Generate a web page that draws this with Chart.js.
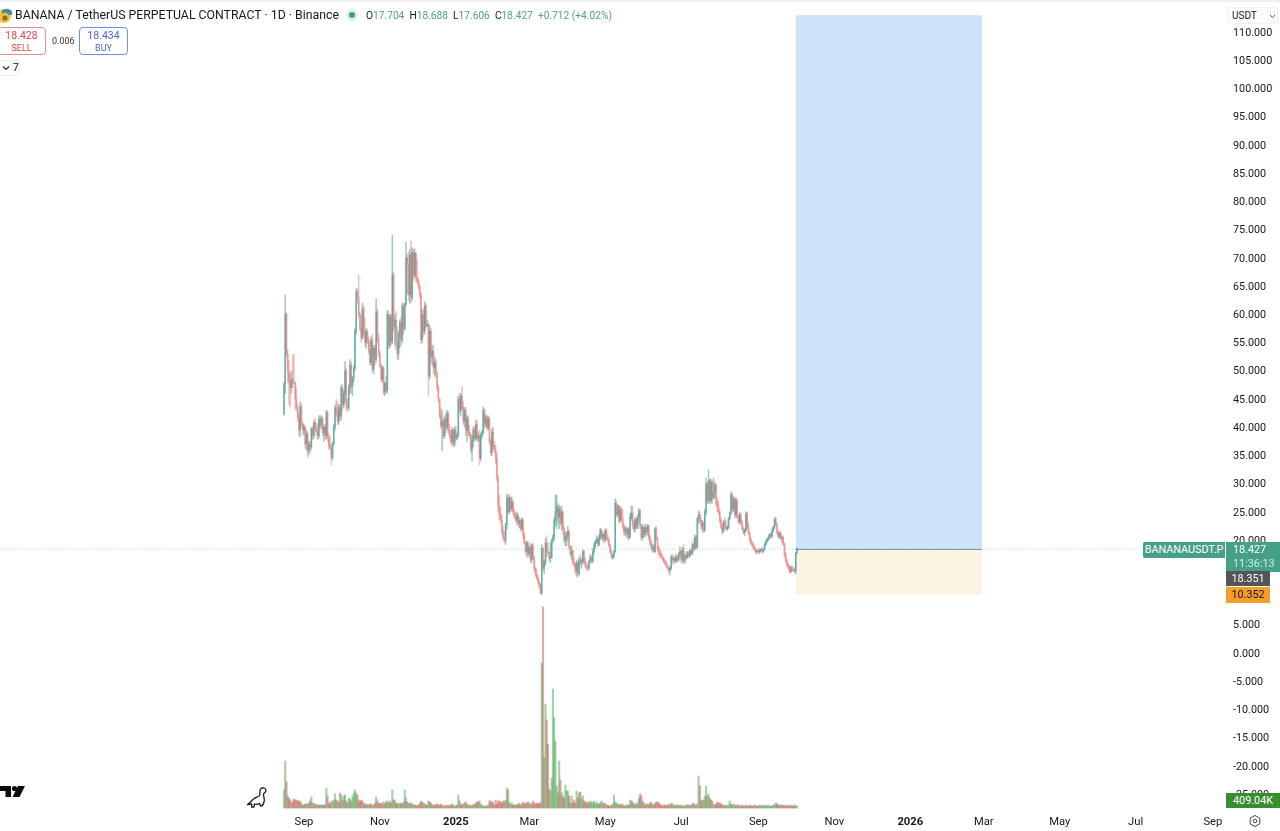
<!DOCTYPE html>
<html><head><meta charset="utf-8"><title>BANANAUSDT.P</title>
<script src="https://cdn.jsdelivr.net/npm/chart.js@4"></script>
<style>
html,body{margin:0;padding:0;background:#fff;width:1280px;height:831px;overflow:hidden;font-family:Roboto,Arial,sans-serif;color:#131722}
#c{position:absolute;left:0;top:0}
.o{position:absolute;white-space:nowrap;box-sizing:border-box}
.tag{text-align:center;font-size:10.8px;line-height:16px}
.ohlc b{font-weight:400;color:#131722}
</style></head><body>
<canvas id="c" width="1280" height="831"></canvas>
<div class="o" style="left:0;top:0;width:1280px;height:2px;background:#eeeff1"></div>
<svg class="o" style="left:0;top:7px" width="14" height="16" viewBox="0 0 14 16"><circle cx="4" cy="9" r="7" fill="#f3c33f"/><path d="M2 3.5 A7 7 0 0 1 12 4 L12 8 L8.5 8 A4 4 0 0 0 2 7Z" fill="#3f8fb0"/><circle cx="5" cy="11" r="2.6" fill="#9a6a20"/></svg>
<div class="o" style="left:15px;top:7px;font-size:12.3px;line-height:17px">BANANA / TetherUS PERPETUAL CONTRACT · 1D · Binance</div>
<div class="o" style="left:346px;top:9px;width:12px;height:12px;border-radius:50%;background:#dff0ec"></div>
<div class="o" style="left:349px;top:12px;width:6px;height:6px;border-radius:50%;background:#3f9c84"></div>
<div class="o ohlc" style="left:366px;top:8px;font-size:10.2px;line-height:15px;color:#4f9f8c"><b>O</b>17.704 <b>&nbsp;H</b>18.688 <b>&nbsp;L</b>17.606 <b>&nbsp;C</b>18.427 &nbsp;+0.712 (+4.02%)</div>
<div class="o" style="left:-3px;top:27px;width:49px;height:28px;border:1px solid #e8898b;border-radius:4px;text-align:center;color:#d9484c;font-size:10.5px;line-height:12px;padding-top:2px;background:#fff">18.428<br><span style="font-size:9px">SELL</span></div>
<div class="o" style="left:52px;top:35px;font-size:9px;line-height:12px;color:#333">0.006</div>
<div class="o" style="left:79px;top:27px;width:49px;height:28px;border:1px solid #6f8cea;border-radius:4px;text-align:center;color:#4a67d8;font-size:10.5px;line-height:12px;padding-top:2px;background:#fff">18.434<br><span style="font-size:9px">BUY</span></div>
<div class="o" style="left:-3px;top:60px;width:23px;height:16px;border:1px solid #eceef1;border-radius:3px;font-size:11px;line-height:14px;padding-left:4px;background:#fff"><svg width="8" height="6" viewBox="0 0 8 6"><path d="M1 1.5 L4 4.5 L7 1.5" fill="none" stroke="#222" stroke-width="1.1"/></svg> 7</div>
<div class="o" style="left:1228px;top:7px;width:50px;height:17px;border:1px solid #f1f2f4;border-radius:2px;font-size:10px;line-height:15px;padding-left:3px;background:#fff">USDT<svg style="position:absolute;right:1px;top:6px" width="7" height="5" viewBox="0 0 7 5"><path d="M1 1 L3.5 3.5 L6 1" fill="none" stroke="#555" stroke-width="1"/></svg></div>
<div class="o tag" style="left:1143px;top:542px;width:82px;height:16px;background:#45a088;color:#fff;border-radius:2px 0 0 2px;font-size:10.8px">BANANAUSDT.P</div>
<div class="o tag" style="left:1226px;top:542px;width:54px;height:30px;background:#45a088;color:#fff;text-align:left;padding-left:7px;line-height:14px;padding-top:1px">18.427<br><span style="color:#cfe9e2">11:36:13</span></div>
<div class="o tag" style="left:1226px;top:571px;width:44px;height:15px;background:#555558;color:#fff;line-height:15px">18.351</div>
<div class="o tag" style="left:1226px;top:587px;width:44px;height:16px;background:#f59d2a;color:#131722;line-height:16px">10.352</div>
<div class="o tag" style="left:1226px;top:793px;width:54px;height:15px;background:#388e2e;color:#fff;line-height:15px">409.04K</div>
<svg class="o" style="left:1248px;top:814px" width="14" height="14" viewBox="0 0 14 14"><path d="M7 1.5 L11.8 4.2 V9.8 L7 12.5 L2.2 9.8 V4.2Z" fill="none" stroke="#444" stroke-width="1"/><circle cx="7" cy="7" r="1.8" fill="none" stroke="#444" stroke-width="1"/></svg>
<svg class="o" style="left:0;top:785px" width="26" height="13" viewBox="0 0 26 13"><path d="M0 1 H11 V12 H5.5 V6 H0Z" fill="#0c0c0c"/><circle cx="14.5" cy="3.5" r="2.6" fill="#0c0c0c"/><path d="M18 1 H25 L19.5 12 H12.5Z" fill="#0c0c0c"/></svg>
<svg class="o" style="left:246px;top:786px" width="22" height="23" viewBox="0 0 22 23"><path d="M1.5 18.5 C4 17 6 14 8 12.5 C10 11 12.5 11 13.5 9.5 C14.5 7.5 13 4 15 2.5 C17 1 20 2 20 4.5 C20 7 17.5 6.5 17.5 8.5 C17.5 11 19 13 18 16 C17.5 18.5 16 20 14.5 20 L13.5 17.5 C12 18.5 10 18.5 8.5 18 L8 21 L5.5 21 L5.8 17.8 C4.5 18.2 3 18.7 1.5 18.5Z" fill="none" stroke="#1a1a1a" stroke-width="1.3" stroke-linejoin="round"/></svg>
<script>
const firstDate = '2024-08-16';
const closes = [
47.5,60,53,50,48,47,48.5,48,47.8,45,43.5,41.8,39.5,43.7,40.5,39.5,40,37,38.8,35.8,
37,36.5,39.7,38.5,40.8,40,39.2,38.4,41.4,40.4,41.5,39,40,38.5,42.6,38,36.8,36.3,34.6,37,
40,43.5,42.8,41,43.5,42,47,44,46,50,44,43.5,47,51,47.2,48.7,50.5,57,64,63,
60,57.5,55.8,61,56.8,55,57,55.5,53.5,51.5,55.5,50.3,54,52,60.5,55.5,53,51,48.5,50.5,
46.2,47.8,46.5,60,54.5,59.5,55.2,67,57.8,59,55,53,56.5,58.5,55.5,61.5,57.5,61.8,70,69,
63.5,70.5,63,71,67,70.8,66.5,66,65,63.5,55.5,60,57,61.5,58,58.2,49,57,52.5,53.5,
50.5,51.5,49.5,47,45,42,40.2,41,38.5,41.5,40,42.5,39.5,38.5,37.5,39.5,37,39.5,38,38.5,
45,43,45.5,43.5,41,43,39.5,41.5,39,38.5,36,37.5,39.5,38,40.5,38,38.5,34.5,38.5,39,
43,40.5,41.8,40,41.5,37.5,35.5,39.2,36.8,36,34.5,31,26,24.5,23.5,21.5,20.5,20,22.8,27.5,
25,27.5,25.5,26.8,25,24.2,23.5,24.5,23,23.5,22,23.6,21,19.5,18,19.5,17.6,18.6,16.5,19,
17,15,14,13.3,12.6,12,10.6,18.5,15,16,19.5,18,17.8,16.8,17,20,20.5,23.5,25,26,
24,25.5,23,25,22,20,20.5,21,21.5,18.7,17.5,18,16,15.7,14.5,16,14,16.5,16,16.3,
18,16.2,15.5,15.2,15,16.2,17,16.3,18,19,19.7,20.2,19.2,20.5,21.8,20.5,21,20,21.7,20.3,
20,19,18,17,17.2,18,26.5,24.5,26,23.5,25.5,23.8,22.5,21.5,22,21,22,20.5,24,24.8,
22.8,22,23.7,22.3,24,25.2,22.5,20.5,22.3,21,22.2,21.5,22.5,20.5,19.5,18.6,18.8,18,22,20.3,
18.5,17.6,17.4,17,16.7,16.2,15.9,15.4,15,14.6,15,17,16.5,16.8,16.3,17,16.5,17.5,18,16.5,
18.3,16.3,17.2,16.9,17.7,17.2,18.2,17.6,19.2,18.5,20.5,18.8,23.8,24.5,23.5,22.5,23,21.8,25,30,
27,30.5,27,30.3,27.5,28.5,29.8,26.5,26,25,23.5,22.3,21.5,23.2,22.5,22,22.2,23.8,24.8,28,
25.5,27.3,24.5,27,24.2,23.2,24.5,23,22,21.3,21.8,24.7,22.5,21.3,20.2,19.5,19.2,18.7,18.3,17.9,
18.1,18,18.2,18.3,18,18.4,19.2,19.8,20.1,20.5,21,20.7,21.7,22.3,23.7,22.8,21.3,20.6,21.2,20.3,
20.5,19.3,17.4,16.3,15.6,15.2,14.4,15.1,14.8,14.6,14.5,17.7,18.427];
const opens = [
42.3,47.5,60,53,50,48,47,48.5,48,47.8,45,43.5,41.8,39.5,43.7,40.5,39.5,40,37,38.8,
35.8,37,36.5,39.7,38.5,40.8,40,39.2,38.4,41.4,40.4,41.5,39,40,38.5,42.6,38,36.8,36.3,34.6,
37,40,43.5,42.8,41,43.5,42,47,44,46,50,44,43.5,47,51,47.2,48.7,50.5,57,64,
63,60,57.5,55.8,61,56.8,55,57,55.5,53.5,51.5,55.5,50.3,54,52,60.5,55.5,53,51,48.5,
50.5,46.2,47.8,46.5,60,54.5,59.5,55.2,67,57.8,59,55,53,56.5,58.5,55.5,61.5,57.5,61.8,70,
69,63.5,70.5,63,71,67,70.8,66.5,66,65,63.5,55.5,60,57,61.5,58,58.2,49,57,52.5,
53.5,50.5,51.5,49.5,47,45,42,40.2,41,38.5,41.5,40,42.5,39.5,38.5,37.5,39.5,37,39.5,38,
38.5,45,43,45.5,43.5,41,43,39.5,41.5,39,38.5,36,37.5,39.5,38,40.5,38,38.5,34.5,38.5,
39,43,40.5,41.8,40,41.5,37.5,35.5,39.2,36.8,36,34.5,31,26,24.5,23.5,21.5,20.5,20,22.8,
27.5,25,27.5,25.5,26.8,25,24.2,23.5,24.5,23,23.5,22,23.6,21,19.5,18,19.5,17.6,18.6,16.5,
19,17,15,14,13.3,12.6,12,10.6,18.5,15,16,19.5,18,17.8,16.8,17,20,20.5,23.5,25,
26,24,25.5,23,25,22,20,20.5,21,21.5,18.7,17.5,18,16,15.7,14.5,16,14,16.5,16,
16.3,18,16.2,15.5,15.2,15,16.2,17,16.3,18,19,19.7,20.2,19.2,20.5,21.8,20.5,21,20,21.7,
20.3,20,19,18,17,17.2,18,26.5,24.5,26,23.5,25.5,23.8,22.5,21.5,22,21,22,20.5,24,
24.8,22.8,22,23.7,22.3,24,25.2,22.5,20.5,22.3,21,22.2,21.5,22.5,20.5,19.5,18.6,18.8,18,22,
20.3,18.5,17.6,17.4,17,16.7,16.2,15.9,15.4,15,14.6,15,17,16.5,16.8,16.3,17,16.5,17.5,18,
16.5,18.3,16.3,17.2,16.9,17.7,17.2,18.2,17.6,19.2,18.5,20.5,18.8,23.8,24.5,23.5,22.5,23,21.8,25,
30,27,30.5,27,30.3,27.5,28.5,29.8,26.5,26,25,23.5,22.3,21.5,23.2,22.5,22,22.2,23.8,24.8,
28,25.5,27.3,24.5,27,24.2,23.2,24.5,23,22,21.3,21.8,24.7,22.5,21.3,20.2,19.5,19.2,18.7,18.3,
17.9,18.1,18,18.2,18.3,18,18.4,19.2,19.8,20.1,20.5,21,20.7,21.7,22.3,23.7,22.8,21.3,20.6,21.2,
20.3,20.5,19.3,17.4,16.3,15.6,15.2,14.4,15.1,14.8,14.6,14.5,17.704];
const highs = [
48,63.4,60.3,53.7,51.8,49.5,50,52.8,52.9,48,47,44,42.4,44.5,44.2,41,40.6,40.2,39.5,39.2,
37.5,37.5,40,40.2,41.2,41.6,40.8,40.6,42,42.1,42,41.8,40.4,40.5,43,42.9,38.8,38.5,37,37.4,
40.5,44,45,44.5,44,44,47.5,47.5,46.5,51.6,50.5,45,47.5,52,51.6,49,51,57.5,64.5,64.5,
67,60.5,59.8,62,61.5,59.3,57.5,57.3,56,55,56,56.5,54.5,54.5,62.8,61,56.5,53.5,51.2,50.8,
50.8,48,49,60.7,60.5,60,60,74,67.5,60,60.5,57.8,57,59,59.5,62,62,62,72.8,70.6,
71,71.5,73,71.8,71.5,71.6,71,69.6,66.5,65.3,63.8,60.8,61,62.2,62,59,58.5,58,57.5,54.5,
54.5,52.5,52,49.8,47.5,45,43.5,43,41.5,42,42.5,43,42.8,40.5,39.5,40,39.7,40,40.2,39,
45.5,46,46,47.3,44.5,43.5,43.5,42,42,40.3,39,38.5,40,40.2,41.2,41.2,39,39.5,39,39.5,
43.6,43.3,42.2,42,42,41.8,38,39.8,40,37.5,36.8,35.5,31.5,28,25.8,24.5,22.5,21.5,23,28.2,
28,28,27.7,27.6,27,25.5,24.8,25,24.7,24,23.7,24,23.8,21.3,19.9,19.8,19.7,19,19.5,19.3,
19.4,17.2,15.2,14.8,13.8,13,12.3,19.2,18.8,16.5,20.3,20.8,19.5,18,19.5,20.2,21,24,28,28,
26.5,26.2,26,26,25.2,22.5,21.5,21.5,22.5,21.8,19,19,18.3,17,16,16.5,16.2,17,17.5,16.8,
18.3,18.2,16.8,16,15.7,16.5,17.5,17.3,18.5,19.5,20,20.8,20.5,21,22.1,22,21.5,21.3,22,22,
21,20.3,19.3,18.3,17.5,18.2,27.3,27,26.3,26.2,26,25.8,25.5,23,22.5,22.3,22.2,22.3,24.8,26,
26,23.5,24,24,24.5,25.6,25.5,22.8,22.8,22.5,22.8,22.6,22.8,22.7,20.8,20,19.3,19.2,22.3,22.4,
20.6,19,18.3,18,17.5,17,16.5,16.3,15.8,15.3,15.4,17.3,17.5,17,17.2,17.5,17.3,17.8,18.8,18.3,
18.8,19.2,17.5,18,18,18,18.4,18.5,19.5,20.2,21,20.8,24,25.2,25,24,23.5,23.3,25.5,31,
30.2,32.5,30.8,30.8,30.5,31,30.2,30,27.5,27,25.3,24,22.8,23.5,24,23.5,22.5,24,25,28.5,
28.4,27.7,27.6,27.5,27.2,24.5,25,24.8,23.5,22.4,22,25,25,23.2,21.5,20.5,19.8,19.5,19,18.6,
18.2,18.6,18.4,18.5,18.8,18.5,19.5,20,20.3,20.8,21.2,21.3,22,22.5,24,24,23,21.8,21.5,21.5,
20.8,20.7,19.5,17.8,16.6,15.9,15.6,15.4,15.5,15.2,15,17.8,18.688];
const lows = [
42.1,46,52.5,48,44,43.5,46,47,47.6,43.2,42.8,41,38.5,38.3,40,38.5,38.8,36.3,36,34.6,
35.2,35.6,36,37.8,38,39.3,38.6,37.8,38,39.6,39.8,38.5,37.5,37.8,38,37.5,36.2,36,33.3,34.2,
36.8,39.5,42,40.5,40.5,41.4,41.2,43,43.5,44.5,43,42.8,43,46,46,45.6,48,50,56.5,62,
59.5,57,55,55.6,56,54.3,54,54.8,53,51,51,49.8,49.5,51,51.5,55,52.5,50.5,48,48,
45.8,45.6,46,46,54,54,54.5,54.8,57,54.5,53.8,52,52,54,54.5,55,56.5,57.2,61.5,63.6,
62.5,62,62,62.5,66,66.5,65.7,65.5,64.5,63,54.8,55,56,56.5,57.5,57.8,45.5,48.5,51.5,51,
49.5,49,48.8,46.5,44.5,41.5,39.8,35.8,38,38,39,39.5,39,38,37,36.8,36.5,36.6,37.5,37.8,
38.2,42.5,42,43,40.5,40,38.5,37.5,38.5,38,35.5,34,36.5,37.5,37.7,37.6,37.5,33.3,34,38,
38.8,39.8,40,39.5,39.5,37,35,35,36,35.5,33.5,30.5,25,23.5,23,21,20,19.5,19.2,22,
24.5,24.8,25,25.2,24.5,23.8,23.3,22.8,22.5,22.2,21.5,21.8,20.3,19.3,17.5,17,17.2,17,16,16,
16.5,14.5,13.5,13,12.2,11.5,10.4,10.3,14.5,14,15.5,17,17.5,16.3,16,16.8,19.5,20,22.5,22,
23,22,22.5,21.8,21,19.5,19,19,19.8,18.3,17,16.5,15.5,15.3,14,13.6,13.4,13.8,15.5,15,
15.8,15.8,15,14.7,14.5,14.7,16,15.8,16,17.5,18.5,19.4,18.8,19,20,20.2,19.8,19.5,19.8,20,
19.5,18.8,17.6,16.8,16.6,16.8,17.8,24,24.2,23,23.2,23.3,22,21,20.8,20.5,20.2,20,20.3,23.5,
22,21.5,21.4,22,22,23,22,20,20,20.5,20.5,21,20.8,20,19,18.2,18,17.7,17.8,20,
18,17.2,17,16.8,16.4,15.9,15.6,15.1,14.7,14.2,13.8,14.8,16,15.8,16,16,16.2,16.2,17,16,
16,15.8,15.9,16.5,16.7,16.9,17,17.3,17.4,18,18.2,18.4,18.5,23,23,22,21.5,21.3,21.5,24.5,
26.5,26.5,26.5,26.5,26.5,27.2,27.5,26,25,24.5,23,22,21,21.3,22,21.8,21.7,22,23.5,24.5,
25,25,24,24,23.8,22.8,23,22.7,21.8,21,20.8,21.5,22,21,19.8,19.2,18.8,18.3,18,17.6,
17.6,17.7,17.6,17.9,17.7,17.8,18.2,19,19.5,19.8,20.2,20.3,20.4,21.4,22,22.5,21,20.3,20.3,20,
19.5,19,17,16,15.3,14.9,14.1,14.2,14.5,14.4,14.2,14,17.606];
const volumesM = [
3.6,9.4,5.2,2.4,2,1.6,1,1.4,1.8,1.6,1.6,1.4,1.4,1.4,1,.6,.6,.8,.8,.8,
1,1.4,2.2,1,.8,.8,.6,.6,.6,.6,.6,.6,.6,.6,4,2.4,1,.8,1.4,1.2,
1.6,2.8,1.6,1.4,1.2,3,2.6,1.6,2.4,2.6,1.4,1,2,1.8,1.4,2.4,3,3.6,3,2.6,
1.6,1.2,1.6,1.4,1,.8,.6,.8,.6,.8,.8,.6,.6,1,2.2,1.4,1,.8,1,.8,
1.2,.8,1.2,1.4,1,1.4,1,3.6,1.6,1.6,1,.8,1,.8,1,.8,1.2,3.6,2,1.2,
1,.8,1,.8,.6,.6,.6,.4,.6,1,1.4,1.2,1,.8,.6,.6,1.4,1.2,1,.6,
.6,.6,.6,.8,.6,.6,.8,.6,.4,.4,.6,.4,.6,.4,.6,.8,.6,.4,.4,.6,
2.6,1.4,.8,.6,.8,1,1.2,.8,.6,.6,.4,.6,.6,.8,1,1.2,1.2,1.4,.8,.6,
.4,.4,.4,.4,.6,1.4,1.4,1,1.2,.6,1.6,.8,1.4,1.4,1.2,1,1.4,1.2,1.6,4,
3.6,1.2,.8,1,.6,.6,.6,.6,.8,1,.6,.8,1.2,.8,1,1,1.2,.8,1,.6,
1.4,1,.8,1,.8,1,1,29,40.2,10,20.8,17.6,12.8,3.8,3.4,6,23.8,18,13.4,4.4,
3,9.4,5.6,3,2.4,2,4.6,3.4,3.4,2.4,1,2.4,1,1.6,1,3.4,2,3,3.2,1.8,
2.4,1.4,1.2,1,1.2,1,1.4,1.2,1,1.4,.8,1.2,.8,.8,1,1.4,1,.8,1,.6,
.6,.4,.4,.6,.8,2.6,1.2,1,.8,.6,.8,.6,.8,.4,.4,.6,.6,.6,1.6,1.4,
1.2,.8,.6,1,.8,2,2.8,2.4,1.4,1,.6,.8,.8,.6,1,1.2,.8,.6,1,1.2,
1.2,1,.8,.6,.4,.6,.6,.4,.6,.8,.6,1,.8,.6,.4,.6,.6,.4,.6,.4,
.6,.4,.4,.6,.6,.6,.4,.6,.8,1,.6,.6,.8,6.4,4.4,1.4,1.6,1.6,2.4,4.4,
2.4,2.8,2,1.6,1.4,.8,.6,.8,1.2,1,1,.8,.6,.6,.4,.6,.4,.6,1.4,.8,
.6,.8,.6,.4,.6,.6,.4,.4,.6,.4,.4,.6,.4,.4,.6,.4,.4,.4,.6,.4,
.4,.4,.6,.4,.4,.6,.4,.6,.4,.6,.4,.4,.4,.6,.6,1,.8,.6,.6,.6,
.6,.4,.6,.4,.4,.6,.4,.6,.4,.4,.6,.4,.40904];
const tickDays = [16,77,138,197,258,319,381,442,503,562,623,684,746];
const tickLabels = ['Sep','Nov','2025','Mar','May','Jul','Sep','Nov','2026','Mar','May','Jul','Sep'];
const priceTicks = [110,105,100,95,90,85,80,75,70,65,60,55,50,45,40,35,30,25,20,15,10,5,0,-5,-10,-15,-20,-25];
const lastPrice = 18.427;
const entryPrice = 18.351;
const stopPrice = 10.352;
const targetPrice = 113;
const positionDays = [411,560.6];
const viewDays = [-228.1,758.2];
const priceRange = [-27.81,115.68];
const volumeRange = [-0.4,161.6];

const UP='rgba(45,150,135,.5)', DOWN='rgba(232,90,90,.42)';
const days = closes.map((_,i)=>i);
const candleColor = days.map(i=>closes[i]>=opens[i]?UP:DOWN);
const volColor = days.map(i=>closes[i]>=opens[i]?'rgba(70,165,80,.5)':'rgba(185,80,75,.48)');
const labelOf = Object.fromEntries(tickDays.map((d,i)=>[d,tickLabels[i]]));
const noPad = s=>{s.paddingTop=0;s.paddingBottom=0;s.paddingLeft=0;s.paddingRight=0};

new Chart(document.getElementById('c'),{
  type:'bar',
  data:{datasets:[
    {type:'line',order:6,data:positionDays.map(x=>({x,y:targetPrice})),fill:{value:entryPrice},backgroundColor:'#cde3fa',borderWidth:0,pointRadius:0},
    {type:'line',order:6,data:positionDays.map(x=>({x,y:stopPrice})),fill:{value:entryPrice},backgroundColor:'#fcf3e3',borderWidth:0,pointRadius:0},
    {type:'line',order:5,data:viewDays.map(x=>({x,y:lastPrice})),borderColor:'#b5d9d0',borderWidth:1,borderDash:[1,2],pointRadius:0,fill:false},
    {type:'line',order:4,data:positionDays.map(x=>({x,y:entryPrice})),borderColor:'#5f9f93',borderWidth:1,pointRadius:0,fill:false},
    {order:3,grouped:false,yAxisID:'yVol',barThickness:1.5,backgroundColor:volColor,borderWidth:0,data:days.map(i=>({x:i,y:volumesM[i]}))},
    {order:2,grouped:false,barThickness:.8,backgroundColor:candleColor,borderWidth:0,data:days.map(i=>({x:i,y:[lows[i],highs[i]]}))},
    {order:1,grouped:false,barThickness:1,backgroundColor:candleColor,borderWidth:0,minBarLength:1,data:days.map(i=>({x:i,y:[opens[i],closes[i]]}))}
  ]},
  options:{
    responsive:false,animation:false,events:[],
    layout:{padding:0},
    plugins:{legend:{display:false},tooltip:{enabled:false},title:{display:false}},
    scales:{
      x:{type:'linear',min:viewDays[0],max:viewDays[1],offset:false,
        grid:{display:false,drawTicks:false},border:{display:false},
        afterBuildTicks:s=>{s.ticks=tickDays.map(value=>({value}))},
        afterFit:s=>{s.height=21;noPad(s)},
        ticks:{autoSkip:false,maxRotation:0,padding:5,color:'#131722',
          font:c=>({family:'Roboto',size:11.2,weight:/^\d+$/.test(labelOf[c.tick&&c.tick.value]||'')?'700':'400'}),
          callback:v=>labelOf[v]}},
      y:{type:'linear',position:'right',min:priceRange[0],max:priceRange[1],
        grid:{display:false,drawTicks:false},border:{display:false},
        afterBuildTicks:s=>{s.ticks=priceTicks.map(value=>({value}))},
        afterFit:s=>{s.width=52;noPad(s)},
        ticks:{padding:5,labelOffset:1,color:'#131722',autoSkip:false,font:{family:'Roboto',size:10.8},callback:v=>v.toFixed(3)}},
      yVol:{type:'linear',display:false,min:volumeRange[0],max:volumeRange[1]}
    }
  }
});
</script></body></html>
